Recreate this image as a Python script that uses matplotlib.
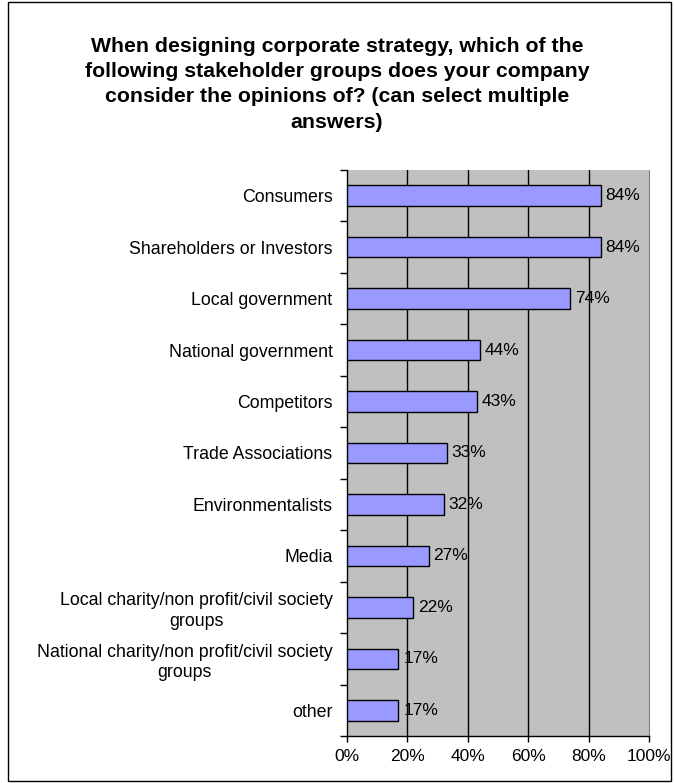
import numpy as np
import matplotlib.pyplot as plt
from matplotlib.patches import Rectangle

# Survey results, top to bottom
groups = [
    "Consumers",
    "Shareholders or Investors",
    "Local government",
    "National government",
    "Competitors",
    "Trade Associations",
    "Environmentalists",
    "Media",
    "Local charity/non profit/civil society\ngroups",
    "National charity/non profit/civil society\ngroups",
    "other",
]
shares = [84, 84, 74, 44, 43, 33, 32, 27, 22, 17, 17]
x_ticks = [0, 20, 40, 60, 80, 100]

title = ("When designing corporate strategy, which of the\n"
         "following stakeholder groups does your company\n"
         "consider the opinions of? (can select multiple\n"
         "answers)")

plt.rcParams['font.family'] = ['Liberation Sans', 'DejaVu Sans']
FS = 12.5

fig = plt.figure(figsize=(6.74, 7.83), dpi=100)
# black frame round the whole chart
fig.patches.append(Rectangle((0.012, 0.003), 0.983, 0.994, transform=fig.transFigure,
                             fill=False, edgecolor='black', linewidth=1.0))

ax = fig.add_axes([0.5148, 0.06, 0.448, 0.723])
ax.set_facecolor('#C0C0C0')

y = np.arange(len(groups))
ax.barh(y, shares, height=0.4, color='#9999FF', edgecolor='black', linewidth=1.0, zorder=3)
for yi, v in zip(y, shares):
    ax.text(v + 1.6, yi, f"{v}%", va='center', ha='left', fontsize=FS, zorder=4)

ax.set_xlim(0, 100)
ax.set_ylim(len(groups) - 0.5, -0.5)

ax.set_xticks(x_ticks)
ax.set_xticklabels([f"{t}%" for t in x_ticks], fontsize=FS)
ax.tick_params(axis='x', length=4, width=1, pad=5)

ax.set_yticks(y)
ax.set_yticklabels(groups, fontsize=12.8, multialignment='center', linespacing=1.25)
ax.tick_params(axis='y', which='major', length=0, pad=10.5)
# small ticks between categories
ax.set_yticks(np.arange(len(groups) + 1) - 0.5, minor=True)
ax.tick_params(axis='y', which='minor', length=5, width=1)

for t in x_ticks[1:-1]:
    ax.axvline(t, color='black', linewidth=1.0, zorder=1)

ax.spines['top'].set_visible(False)
ax.spines['right'].set_color('#808080')
ax.spines['left'].set_linewidth(1.0)
ax.spines['bottom'].set_linewidth(1.0)

fig.text(0.5, 0.953, title, ha='center', va='top', fontsize=15.3, fontweight='bold',
         linespacing=1.42)

fig.savefig("out.png", dpi=100)
